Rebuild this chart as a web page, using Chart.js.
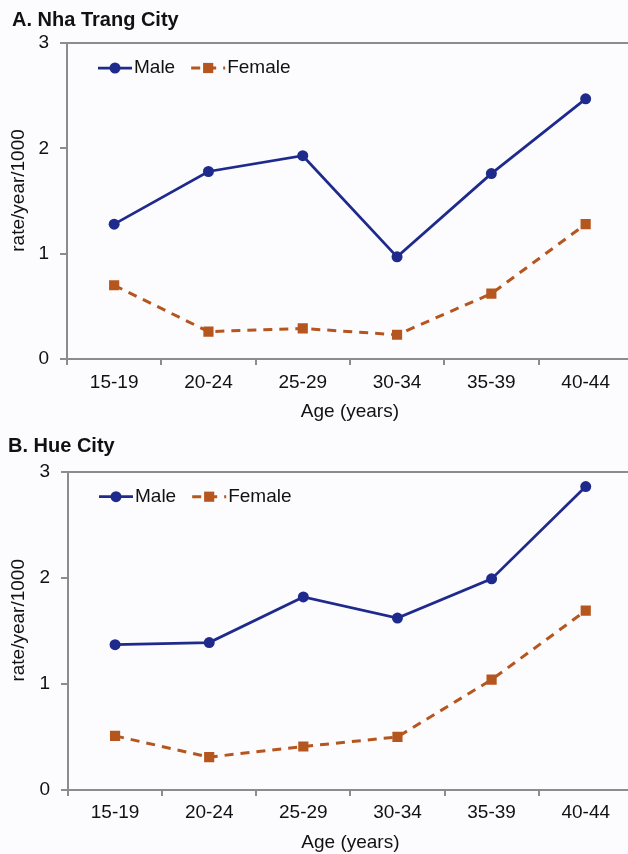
<!DOCTYPE html>
<html>
<head>
<meta charset="utf-8">
<script src="https://cdn.jsdelivr.net/npm/chart.js@4/dist/chart.umd.min.js"></script>
<style>
  html, body { margin: 0; padding: 0; background: #fcfcfe; overflow: hidden; }
  #wrap { width: 628px; height: 854px; overflow: hidden; position: relative; }
  canvas { display: block; }
</style>
</head>
<body>
<div id="wrap">
  <canvas id="chartA" width="640" height="427"></canvas>
  <canvas id="chartB" width="640" height="427"></canvas>
</div>
<script>
const ageGroups = ['15-19', '20-24', '25-29', '30-34', '35-39', '40-44'];
const nhaTrangMale = [1.28, 1.78, 1.93, 0.97, 1.76, 2.47];
const nhaTrangFemale = [0.70, 0.26, 0.29, 0.23, 0.62, 1.28];
const hueMale = [1.37, 1.39, 1.82, 1.62, 1.99, 2.86];
const hueFemale = [0.51, 0.31, 0.41, 0.50, 1.04, 1.69];
const yTicks = [0, 1, 2, 3];

const maleColor = '#1f2b8c';
const femaleColor = '#b5561f';
const axisColor = '#8c8c8c';
const textColor = '#111111';
const fontFamily = '"Liberation Sans", Arial, sans-serif';

// legend drawn inside the plot area, Excel style
const insideLegend = {
  id: 'insideLegend',
  afterDraw(chart) {
    const ctx = chart.ctx;
    const area = chart.chartArea;
    let x = area.left + 31;
    const y = area.top + 25;
    ctx.save();
    ctx.font = '19px ' + fontFamily;
    ctx.textBaseline = 'middle';
    chart.data.datasets.forEach(ds => {
      ctx.strokeStyle = ds.borderColor;
      ctx.lineWidth = ds.borderWidth;
      ctx.setLineDash(ds.borderDash || []);
      ctx.beginPath();
      ctx.moveTo(x, y);
      ctx.lineTo(x + 34, y);
      ctx.stroke();
      ctx.setLineDash([]);
      ctx.fillStyle = ds.pointBackgroundColor;
      ctx.beginPath();
      if (ds.pointStyle === 'rect') {
        const s = ds.pointRadius * Math.SQRT1_2;
        ctx.rect(x + 17 - s, y - s, 2 * s, 2 * s);
      } else {
        ctx.arc(x + 17, y, ds.pointRadius, 0, Math.PI * 2);
      }
      ctx.fill();
      ctx.fillStyle = textColor;
      ctx.fillText(ds.label, x + 36, y);
      x += 36 + ctx.measureText(ds.label).width + 16;
    });
    ctx.restore();
  }
};

function makeChart(id, title, male, female, box) {
  new Chart(document.getElementById(id), {
    type: 'line',
    data: {
      labels: ageGroups,
      datasets: [
        {
          label: 'Male',
          data: male,
          borderColor: maleColor,
          borderWidth: 2.75,
          pointStyle: 'circle',
          pointRadius: 5.5,
          pointBackgroundColor: maleColor,
          pointBorderWidth: 0,
          tension: 0
        },
        {
          label: 'Female',
          data: female,
          borderColor: femaleColor,
          borderWidth: 3,
          borderDash: [9, 7],
          pointStyle: 'rect',
          pointRadius: 7.2,
          pointBackgroundColor: femaleColor,
          pointBorderWidth: 0,
          tension: 0
        }
      ]
    },
    options: {
      responsive: false,
      animation: false,
      devicePixelRatio: 1,
      layout: { padding: { left: box.padLeft, right: 640 - box.right, top: 0, bottom: 0 } },
      plugins: {
        legend: { display: false },
        tooltip: { enabled: false },
        title: {
          display: true,
          text: title,
          align: 'start',
          color: textColor,
          font: { family: fontFamily, size: 20, weight: 'bold', lineHeight: 1.2 },
          padding: { top: box.titleTop, bottom: box.titleBottom }
        }
      },
      scales: {
        x: {
          offset: true,
          afterFit(scale) { scale.height = box.xHeight; },
          border: { display: true, color: axisColor, width: 2 },
          grid: { offset: true, drawOnChartArea: false, tickLength: 6, color: axisColor, lineWidth: 2 },
          ticks: { color: textColor, padding: box.xPad, font: { family: fontFamily, size: 19 } },
          title: {
            display: true,
            text: 'Age (years)',
            color: textColor,
            font: { family: fontFamily, size: 19, lineHeight: 1.2 },
            padding: { top: 0, bottom: box.xTitleBottom }
          }
        },
        y: {
          min: 0,
          max: 3,
          afterFit(scale) { scale.width = box.left - box.padLeft; },
          afterBuildTicks(scale) { scale.ticks = yTicks.map(v => ({ value: v })); },
          border: { display: true, color: axisColor, width: 2 },
          grid: {
            color: c => (c.tick && c.tick.value === 3 ? axisColor : 'rgba(0,0,0,0)'),
            tickColor: axisColor,
            lineWidth: 2,
            tickLength: 7
          },
          ticks: { color: textColor, padding: 11, font: { family: fontFamily, size: 19 } },
          title: {
            display: true,
            // leading spaces nudge the label a bit above the axis middle, as in the original
            text: '    rate/year/1000',
            color: textColor,
            font: { family: fontFamily, size: 19, lineHeight: 1.2 },
            padding: { top: box.yTitleTop, bottom: 0 }
          }
        }
      }
    },
    plugins: [insideLegend]
  });
}

makeChart('chartA', 'A. Nha Trang City', nhaTrangMale, nhaTrangFemale, {
  padLeft: 12, left: 67, right: 636, titleTop: 8, titleBottom: 11,
  xHeight: 68, xPad: 6.6, xTitleBottom: 3.6, yTitleTop: -4.5
});
makeChart('chartB', 'B. Hue City', hueMale, hueFemale, {
  padLeft: 8, left: 68, right: 633, titleTop: 7, titleBottom: 13.7,
  xHeight: 64, xPad: 5.6, xTitleBottom: 0, yTitleTop: -0.5
});
</script>
</body>
</html>
